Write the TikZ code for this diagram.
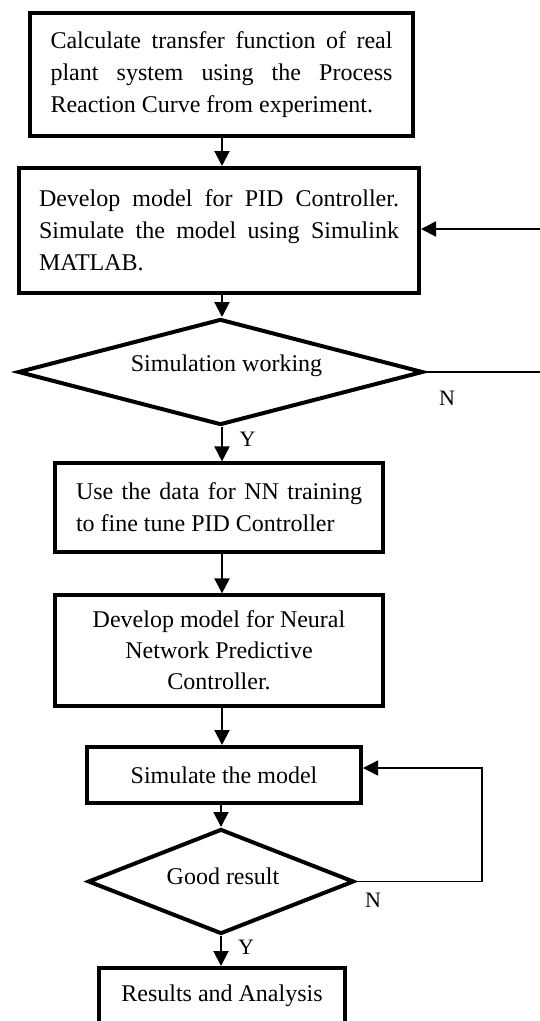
\documentclass[tikz,border=0pt]{standalone}
\usepackage{fontspec}
\setmainfont{Liberation Serif}
\usetikzlibrary{shapes.geometric,arrows.meta}

\begin{document}
\begin{tikzpicture}[x=1pt,y=-1pt,
  every node/.style={font=\fontsize{24}{32}\selectfont},
  procbox/.style={draw, rectangle, line width=4pt, inner sep=0pt},
  thinbox/.style={procbox, line width=3.2pt},
  decision/.style={draw, diamond, line width=4pt, inner sep=0pt},
  tip/.style={-{Triangle[length=15pt,width=15pt]}},
  flow/.style={line width=2pt, tip},
  backflow/.style={line width=1.8pt, tip},
  loopflow/.style={line width=1.5pt, tip},
  lbl/.style={font=\fontsize{22}{26}\selectfont, inner sep=0pt}
]
\useasboundingbox (0,0) rectangle (539,1021);

% process steps
\node[procbox, minimum width=383pt, minimum height=123pt,
      text width=342pt, align=justify] (tf) at (221.5,74.5)
  {Calculate transfer function of real\linebreak plant system using the Process\linebreak Reaction Curve from experiment.};

\node[procbox, minimum width=400pt, minimum height=125pt,
      text width=360pt, align=justify] (pid) at (219,230.5)
  {Develop model for PID Controller.\linebreak Simulate the model using Simulink\linebreak MATLAB.};

\node[decision, aspect=3.8, minimum width=405pt, minimum height=106pt,
      label={[xshift=6pt,yshift=6pt]center:Simulation working}] (simok) at (220.5,372) {};

\node[thinbox, minimum width=328pt, minimum height=89pt,
      text width=286pt, align=justify] (nntrain) at (219,507.5)
  {Use the data for NN training\linebreak to fine tune PID Controller};

\node[thinbox, minimum width=328pt, minimum height=111pt, align=center,
      font=\fontsize{24}{31}\selectfont] (nnpc) at (219,650.5)
  {Develop model for Neural\\ Network Predictive\\ Controller.};

\node[procbox, minimum width=274pt, minimum height=56pt] (simmodel) at (224,775)
  {Simulate the model};

\node[decision, aspect=2.5, minimum width=266pt, minimum height=105pt,
      label={[xshift=2pt,yshift=5.5pt]center:Good result}] (good) at (221,881.5) {};

\node[procbox, minimum width=246pt, minimum height=56pt] (results) at (222,996)
  {Results and Analysis};

% branch labels
\node[lbl] (n1) at (447,398) {N};
\node[lbl] (y1) at (247.5,439) {Y};
\node[lbl] (n2) at (373,900) {N};
\node[lbl] (y2) at (246,947) {Y};

% columns and turning points of the connectors
\coordinate (upcol) at (222,0);
\coordinate (lowcol) at (221,0);
\coordinate (backtop) at (541,229);
\coordinate (loopc) at (482,768);

% main flow
\draw[flow] (tf.south -| upcol) -- (pid.north -| upcol);
\draw[flow] (pid.south -| upcol) -- (simok.north -| upcol);
\draw[flow] (simok.south -| upcol) -- (nntrain.north -| upcol);
\draw[flow] (nntrain.south -| upcol) -- (nnpc.north -| upcol);
\draw[flow] (nnpc.south -| upcol) -- (simmodel.north -| upcol);
\draw[flow] (simmodel.south -| lowcol) -- (good.north -| lowcol);
\draw[flow] (good.south -| lowcol) -- (results.north -| lowcol);

% feedback on "N"
\draw[backflow] (simok.east) -- (simok.east -| backtop) -- (backtop) -- (pid.east |- backtop);
\draw[loopflow] (good.east) -| (loopc) -- (simmodel.east |- loopc);
\end{tikzpicture}
\end{document}
